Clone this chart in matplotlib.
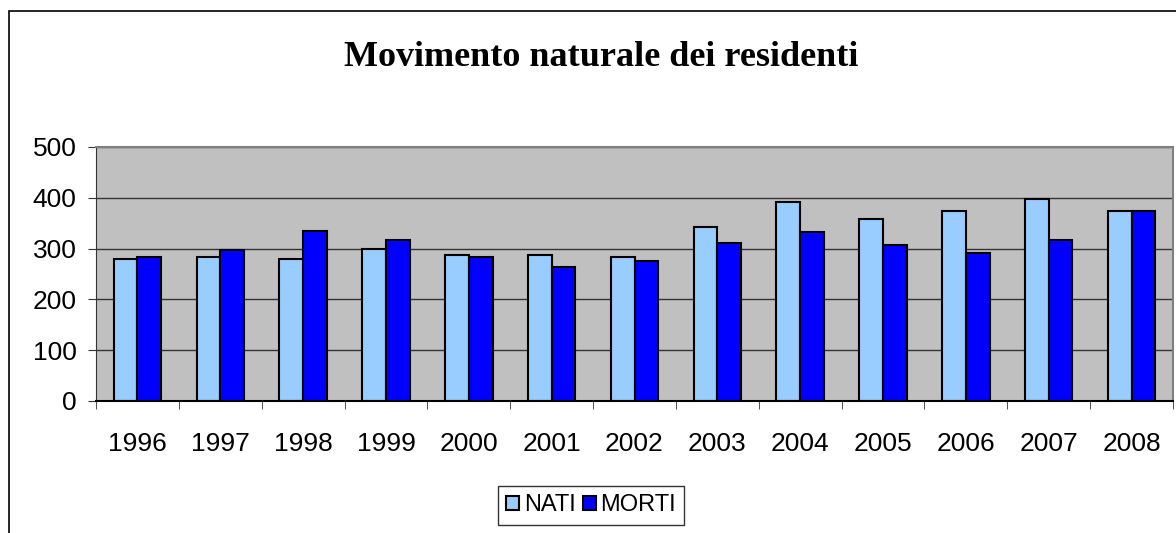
import matplotlib.pyplot as plt
import numpy as np
from matplotlib.patches import Rectangle

years = ["1996", "1997", "1998", "1999", "2000", "2001", "2002",
         "2003", "2004", "2005", "2006", "2007", "2008"]
nati = [280, 284, 280, 300, 288, 288, 284, 343, 391, 359, 375, 398, 375]
morti = [284, 297, 335, 316, 284, 264, 276, 312, 332, 307, 291, 316, 375]
yticks = [0, 100, 200, 300, 400, 500]

NATI_COLOR = "#99ccff"
MORTI_COLOR = "#0000ff"
PLOT_BG = "#c0c0c0"

fig = plt.figure(figsize=(11.76, 5.33), dpi=100)
fig.patch.set_facecolor("white")

# outer chart frame (bottom/right run past the image edge)
fig.patches.append(Rectangle((9 / 1176, -0.1), 1.2, (533 - 11) / 533 + 0.1,
                             transform=fig.transFigure, fill=False,
                             edgecolor="black", lw=1.2))

ax = fig.add_axes([96 / 1176, (533 - 401) / 533, (1173 - 96) / 1176, (401 - 147) / 533])
ax.set_facecolor(PLOT_BG)

x = np.arange(len(years))
w = 0.286
ax.bar(x - w / 2, nati, w, color=NATI_COLOR, edgecolor="black", lw=1.5, label="NATI", zorder=3)
ax.bar(x + w / 2, morti, w, color=MORTI_COLOR, edgecolor="black", lw=1.5, label="MORTI", zorder=3)

ax.set_xlim(-0.5, len(years) - 0.5)
ax.set_ylim(0, 500)
ax.set_yticks(yticks)
ax.set_yticklabels([str(v) for v in yticks], fontsize=19, family="Liberation Sans")
ax.yaxis.grid(True, color="#333333", lw=1.0, zorder=0)

ax.set_xticks(x)
ax.set_xticklabels(years, fontsize=19, family="Liberation Sans")
ax.set_xticks(np.arange(len(years) + 1) - 0.5, minor=True)
ax.tick_params(axis="x", which="major", length=0, pad=22)
ax.tick_params(axis="x", which="minor", length=6, direction="out", color="#333333")
ax.tick_params(axis="y", length=6, direction="out", color="#333333", pad=8)

for side in ("top", "right"):
    ax.spines[side].set_color("#808080")
    ax.spines[side].set_linewidth(1.5)
ax.spines["left"].set_color("#333333")
ax.spines["bottom"].set_color("black")
ax.spines["bottom"].set_linewidth(1.5)
ax.spines["bottom"].set_zorder(4)

fig.text(601 / 1176, 1 - 57 / 533, "Movimento naturale dei residenti",
         ha="center", va="center", fontsize=26, fontweight="bold",
         family="Liberation Serif")

leg = fig.legend(loc="upper center", bbox_to_anchor=(591 / 1176, 1 - 486 / 533), ncols=2,
                 prop={"family": "Liberation Sans", "size": 17},
                 frameon=True, fancybox=False, edgecolor="black",
                 handlelength=0.55, handleheight=0.55, handletextpad=0.2,
                 columnspacing=0.3, borderpad=0.35, borderaxespad=0)
leg.get_frame().set_linewidth(1.0)

fig.savefig("out.png", dpi=100)
